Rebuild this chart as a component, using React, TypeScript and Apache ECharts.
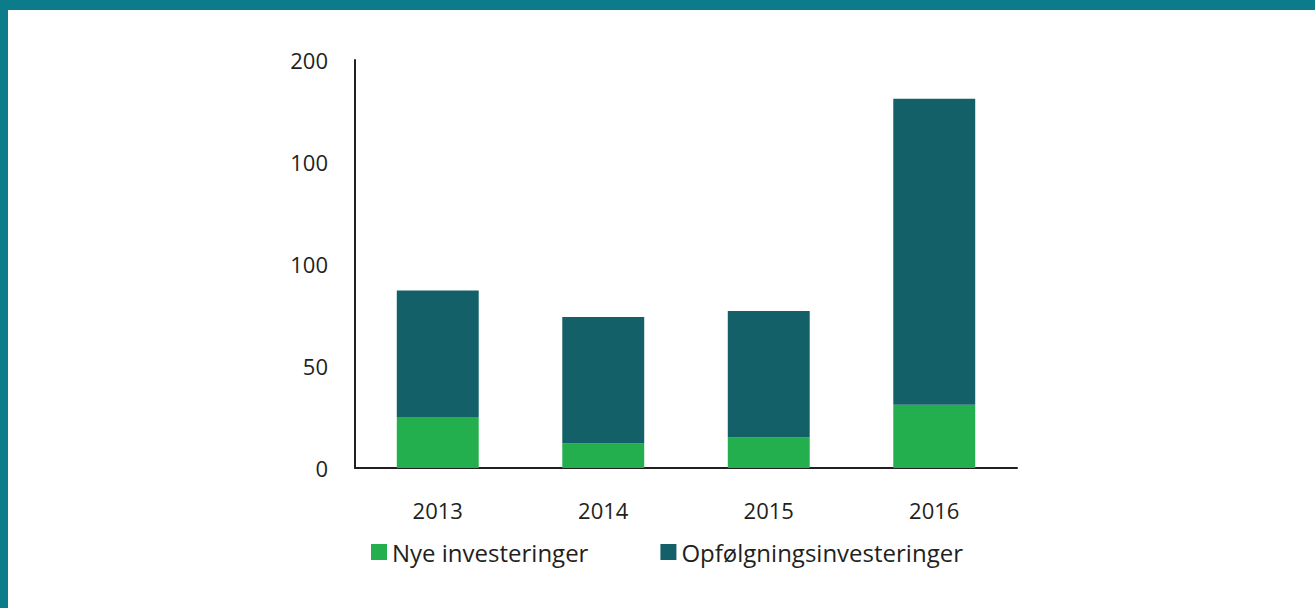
import React, { useEffect, useRef } from "react";
import * as echarts from "echarts";

const categories = ["2013", "2014", "2015", "2016"];
const nyeInvesteringer = [25, 12, 15, 31];
const opfolgningsInvesteringer = [62, 62, 62, 150];
const yTickLabels = ["0", "50", "100", "100", "200"];
const seriesNames = ["Nye investeringer", "Opfølgningsinvesteringer"];

const FONT = "'Open Sans', 'Noto Sans', sans-serif";
const TEXT = "#231f20";

export default function App() {
  const ref = useRef<HTMLDivElement>(null);
  useEffect(() => {
    if (!ref.current) return;
    const chart = echarts.init(ref.current, null, { renderer: "svg" });
    chart.setOption({
      animation: false,
      backgroundColor: "#ffffff",
      textStyle: { fontFamily: FONT },
      graphic: [
        { type: "rect", left: 0, top: 0, shape: { width: 1315, height: 10 }, style: { fill: "#0c7b8a" }, silent: true },
        { type: "rect", left: 0, top: 0, shape: { width: 8, height: 608 }, style: { fill: "#0c7b8a" }, silent: true },
      ],
      grid: { left: 355, right: 298, top: 60, bottom: 140, containLabel: false },
      legend: {
        left: 366,
        top: 535,
        itemWidth: 16,
        itemHeight: 16,
        itemGap: 72,
        icon: "rect",
        textStyle: { fontFamily: FONT, fontSize: 24, color: TEXT },
        data: seriesNames,
      },
      xAxis: {
        type: "category",
        data: categories,
        axisLine: { show: true, lineStyle: { color: TEXT, width: 2 } },
        axisTick: { show: false },
        axisLabel: { fontFamily: FONT, fontSize: 22, color: TEXT, margin: 31 },
      },
      yAxis: {
        type: "value",
        min: 0,
        max: 200,
        interval: 50,
        axisLine: { show: true, lineStyle: { color: TEXT, width: 2 } },
        axisTick: { show: false },
        splitLine: { show: false },
        axisLabel: {
          fontFamily: FONT,
          fontSize: 22,
          color: TEXT,
          margin: 27,
          formatter: (_v: number, i: number) => yTickLabels[i] ?? "",
        },
      },
      series: [
        {
          name: seriesNames[0],
          type: "bar",
          stack: "total",
          barWidth: "49.5%",
          data: nyeInvesteringer,
          itemStyle: { color: "#23af4e" },
        },
        {
          name: seriesNames[1],
          type: "bar",
          stack: "total",
          barWidth: "49.5%",
          data: opfolgningsInvesteringer,
          itemStyle: { color: "#136068" },
        },
      ],
    });
    return () => chart.dispose();
  }, []);
  return (
    <div style={{ position: "fixed", left: 0, top: 0, width: 1315, height: 608 }}>
      <div ref={ref} style={{ width: 1315, height: 608 }} />
    </div>
  );
}
